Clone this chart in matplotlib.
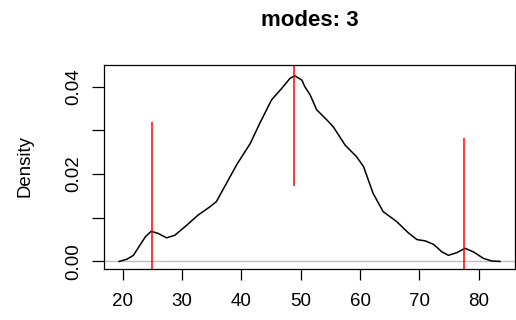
import matplotlib
matplotlib.use('Agg')
import matplotlib.pyplot as plt

plt.rcParams['font.family'] = ['Liberation Sans', 'DejaVu Sans']

# density curve
dens_x = [19.4, 20.7, 21.8, 22.9, 23.8, 24.8, 26.0, 27.4, 28.8, 30.8, 32.7, 34.7,
          35.8, 37.5, 39.2, 41.5, 43.1, 45.1, 46.8, 48.2, 49.0, 50.2, 50.7, 51.6,
          52.7, 54.4, 55.5, 57.5, 59.4, 60.6, 62.2, 63.9, 66.2, 68.1, 69.6, 71.0,
          72.4, 73.8, 74.9, 76.3, 77.7, 79.1, 80.8, 82.2, 83.6]
dens_y = [0.0, 0.0005, 0.0014, 0.0037, 0.0056, 0.0069, 0.0064, 0.0054, 0.0060, 0.0083,
          0.0106, 0.0125, 0.0137, 0.0179, 0.0221, 0.0270, 0.0316, 0.0370, 0.0396,
          0.0419, 0.0425, 0.0415, 0.0400, 0.0381, 0.0347, 0.0324, 0.0308, 0.0266,
          0.0240, 0.0217, 0.0156, 0.0114, 0.0091, 0.0066, 0.0050, 0.0047, 0.0039,
          0.0022, 0.0014, 0.0020, 0.0030, 0.0022, 0.0007, 0.0001, 0.0]

# mode markers (x, from, to)
mode_x = [24.9, 48.9, 77.6]
mode_lo = [-0.002, 0.0172, -0.002]
mode_hi = [0.0320, 0.0500, 0.0282]

xticks = [20, 30, 40, 50, 60, 70, 80]
yticks = [0.0, 0.01, 0.02, 0.03, 0.04]
ytick_labels = ['0.00', '', '0.02', '', '0.04']

fig = plt.figure(figsize=(5.16, 3.2), dpi=100)
ax = fig.add_axes([0.201, 0.159, 0.797, 0.639])

ax.axhline(0, color='#bebebe', lw=1.0)
ax.plot(dens_x, dens_y, color='black', lw=1.1)
ax.vlines(mode_x, mode_lo, mode_hi, color='red', lw=1.1)

ax.set_xlim(16.8, 86.12)
ax.set_ylim(-0.00176, 0.04504)
ax.set_xticks(xticks)
ax.set_yticks(yticks)
ax.set_yticklabels(ytick_labels, rotation=90, va='center')
ax.tick_params(axis='x', length=8, width=0.9, labelsize=13.5, pad=9)
ax.tick_params(axis='y', length=8.5, width=0.9, labelsize=13.5, pad=7)
for s in ax.spines.values():
    s.set_linewidth(0.9)

ax.set_title('modes: 3', fontsize=16, fontweight='bold', pad=28)
fig.text(25 / 516, 1 - 166 / 320, 'Density', rotation=90, fontsize=13.4,
         ha='center', va='center')

fig.savefig('out.png', dpi=100)
